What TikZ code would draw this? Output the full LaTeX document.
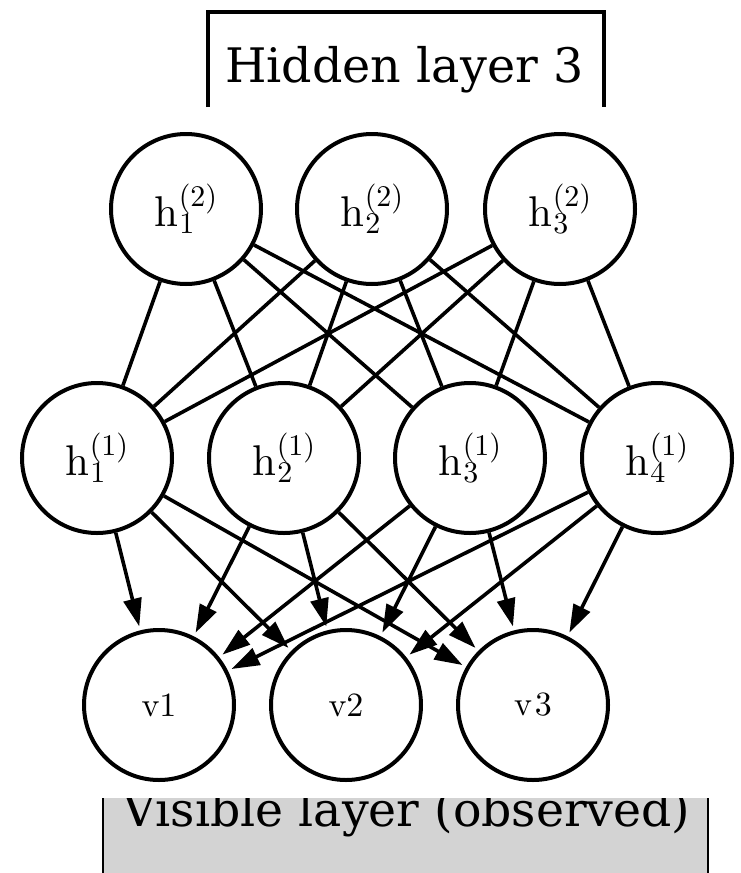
\documentclass[tikz,border=0pt]{standalone}
\usepackage{fontspec}
\newfontfamily\captionserif{DejaVu Serif}
\newfontfamily\unitfont{lmroman10-regular}[Extension=.otf]
\usetikzlibrary{arrows.meta}
\definecolor{boxgray}{RGB}{211,211,211}
% unit label h with a lowered index and a raised layer number
\newcommand\hlab[2]{h\rlap{\kern0.5pt\raisebox{-0.16em}{\fontsize{30}{30}\selectfont #1}}%
  {\raisebox{0.47em}{\fontsize{30}{30}\selectfont(#2)}}}
\begin{document}
\begin{tikzpicture}[x=1pt,y=-1pt,
  unit/.style={circle,draw,fill=white,line width=4pt,minimum size=150pt,inner sep=0pt,
               font=\unitfont\fontsize{43}{48}\selectfont},
  visunit/.style={unit,font=\unitfont\fontsize{34}{38}\selectfont},
  link/.style={line width=3.6pt},
  feed/.style={line width=3.6pt,-{Triangle[length=28pt,width=18pt]},shorten >=4pt},
  caption/.style={inner sep=0pt,anchor=base west,font=\captionserif}]
\useasboundingbox (0,0) rectangle (740,873);

% top caption box, open at the bottom
\coordinate (hbl) at (208,107);
\coordinate (htl) at (208,12);
\coordinate (htr) at (604,12);
\coordinate (hbr) at (604,107);
\draw[line width=3.5pt] (hbl) -- (htl) -- (htr) -- (hbr);
\node[caption] (hidden) at (225,82) {\resizebox{358pt}{!}{Hidden layer 3}};

% second hidden layer
\node[unit] (t1) at (186,209) {\hlab{1}{2}};
\node[unit] (t2) at (372,209) {\hlab{2}{2}};
\node[unit] (t3) at (560,209) {\hlab{3}{2}};

% first hidden layer
\node[unit] (m1) at (97,458)  {\hlab{1}{1}};
\node[unit] (m2) at (284,458) {\hlab{2}{1}};
\node[unit] (m3) at (470,458) {\hlab{3}{1}};
\node[unit] (m4) at (657,458) {\hlab{4}{1}};

% visible units
\node[visunit] (v1) at (159,705) {v1};
\node[visunit] (v2) at (346,705) {v2};
\node[visunit] (v3) at (533,705) {v\kern3pt3};

% undirected links between the hidden layers
\foreach \a in {t1,t2,t3}
  \foreach \b in {m1,m2,m3,m4}
    \draw[link] (\a) -- (\b);

% directed links to the visible units
\foreach \a in {m1,m2,m3,m4}
  \foreach \b in {v1,v2,v3}
    \draw[feed] (\a) -- (\b);

% bottom caption box, shaded, cut at the top
\fill[boxgray] (103,798) rectangle (708,873);
\begin{scope}
  \clip (103,798) rectangle (708,873);
  \node[caption] (visible) at (122,826) {\resizebox{568pt}{!}{Visible layer (observed)}};
\end{scope}
\coordinate (vtl) at (103,798);
\coordinate (vbl) at (103,873);
\coordinate (vtr) at (708,798);
\coordinate (vbr) at (708,873);
\draw[line width=2.5pt] (vtl) -- (vbl);
\draw[line width=2.5pt] (vtr) -- (vbr);
\end{tikzpicture}
\end{document}
